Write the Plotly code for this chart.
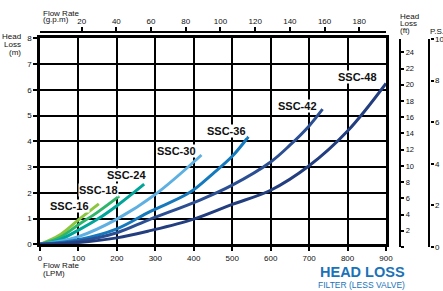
import plotly.graph_objects as go

FONT = "Liberation Sans, Arial, sans-serif"

# ---- data (flow in LPM, head loss in m) ----
series_names = ["SSC-16", "SSC-18", "SSC-24", "SSC-30", "SSC-36", "SSC-42", "SSC-48"]

lpm_16 = [0, 50, 100, 153]
hl_16 = [0, 0.35, 0.95, 1.57]

lpm_18 = [0, 50, 100, 150, 206]
hl_18 = [0, 0.25, 0.76, 1.25, 1.87]

lpm_24 = [0, 50, 100, 150, 200, 271]
hl_24 = [0, 0.17, 0.55, 0.98, 1.5, 2.34]

lpm_30 = [0, 100, 200, 300, 420]
hl_30 = [0, 0.3, 0.98, 1.94, 3.47]

lpm_36 = [0, 100, 200, 286, 388, 450, 500, 542]
hl_36 = [0, 0.18, 0.6, 1.27, 2.0, 2.75, 3.42, 4.18]

lpm_42 = [0, 100, 200, 286, 416, 500, 600, 650, 700, 735]
hl_42 = [0, 0.12, 0.45, 0.97, 1.72, 2.3, 3.2, 3.85, 4.6, 5.25]

lpm_48 = [0, 100, 200, 286, 400, 500, 600, 700, 800, 900]
hl_48 = [0, 0.07, 0.25, 0.53, 0.98, 1.55, 2.1, 3.05, 4.4, 6.25]

series_x = [lpm_16, lpm_18, lpm_24, lpm_30, lpm_36, lpm_42, lpm_48]
series_y = [hl_16, hl_18, hl_24, hl_30, hl_36, hl_42, hl_48]
colors = ["#8cc63f", "#2db56c", "#00a59a", "#5eb0e2", "#1479bd", "#2c4f93", "#233e7f"]

# label anchor points (LPM, m)
label_x = [78, 151, 226, 356, 486, 669, 825]
label_y = [1.49, 2.11, 2.69, 3.62, 4.40, 5.37, 6.49]

lpm_ticks = [0, 100, 200, 300, 400, 500, 600, 700, 800, 900]
m_ticks = [0, 1, 2, 3, 4, 5, 6, 7, 8]
gpm_ticks = [20, 40, 60, 80, 100, 120, 140, 160, 180]
ft_ticks = [0, 2, 4, 6, 8, 10, 12, 14, 16, 18, 20, 22, 24]
psi_ticks = [0, 2, 4, 6, 8, 10]

fig = go.Figure()

for name, xs, ys, c in zip(series_names, series_x, series_y, colors):
    fig.add_trace(go.Scatter(x=xs, y=ys, mode="lines", name=name,
                             line=dict(color=c, width=3, shape="spline", smoothing=1.0),
                             hoverinfo="skip", showlegend=False))

# empty traces so that the secondary (scale-only) axes get drawn
fig.add_trace(go.Scatter(x=[None], y=[None], xaxis="x2", yaxis="y2",
                         showlegend=False, hoverinfo="skip"))
fig.add_trace(go.Scatter(x=[None], y=[None], xaxis="x2", yaxis="y3",
                         showlegend=False, hoverinfo="skip"))

# the page's body margin is removed (post_script), so figure pixels = window pixels
OFF = 0
W, H = 443, 291
L, R, T, B = 40, 13, 30, 44
PW, PH = W - L - R, H - T - B
PB = H - B  # paper bottom in figure pixels

def fx(px):   # window pixel x -> paper x
    return (px - OFF - L) / PW

def fy(py):   # window pixel y -> paper y
    return (PB - (py - OFF)) / PH

XDOM = [0, fx(386)]
tickfont = dict(family=FONT, size=8, color="#111")

fig.update_layout(
    width=W, height=H,
    margin=dict(l=L, r=R, t=T, b=B),
    paper_bgcolor="white", plot_bgcolor="rgba(0,0,0,0)",
    xaxis=dict(domain=XDOM, range=[0, 900], tickvals=lpm_ticks,
               showgrid=True, gridcolor="black", gridwidth=2.2,
               showline=True, linecolor="black", linewidth=2.6, mirror=True,
               ticks="outside", ticklen=4, tickwidth=2, tickcolor="black",
               tickfont=tickfont, zeroline=False, fixedrange=True, automargin=False),
    yaxis=dict(domain=[fy(244.3), fy(38.4)], range=[0, 8], tickvals=m_ticks,
               showgrid=True, gridcolor="black", gridwidth=2.2,
               showline=True, linecolor="black", linewidth=2.6, mirror=True,
               ticks="outside", ticklen=4, tickwidth=2, tickcolor="black",
               tickfont=tickfont, zeroline=False, fixedrange=True, automargin=False),
    xaxis2=dict(domain=XDOM, range=[-4, 195.4], anchor="free", position=fy(32),
                side="top", tickvals=gpm_ticks, showgrid=False,
                showline=True, linecolor="black", linewidth=2.4,
                ticks="outside", ticklen=4, tickwidth=2, tickcolor="black",
                tickfont=tickfont, zeroline=False, fixedrange=True, automargin=False),
    yaxis2=dict(domain=[fy(247), fy(39)], range=[0, 25.64], anchor="free", position=fx(400),
                side="right", tickvals=ft_ticks,
                ticktext=["" if v == 0 else str(v) for v in ft_ticks],
                showgrid=False, showline=True, linecolor="black", linewidth=2.4,
                ticks="outside", ticklen=3, tickwidth=2, tickcolor="black",
                tickfont=dict(family=FONT, size=7.5, color="#111"),
                ticklabeloverflow="allow",
                zeroline=False, fixedrange=True, automargin=False),
    yaxis3=dict(domain=[fy(247), fy(39)], range=[0, 10], anchor="free", position=fx(429.3),
                side="right", tickvals=psi_ticks, showgrid=False,
                showline=True, linecolor="black", linewidth=2.4,
                ticks="outside", ticklen=3, tickwidth=2, tickcolor="black",
                tickfont=dict(family=FONT, size=8, color="#111"),
                ticklabeloverflow="allow",
                zeroline=False, fixedrange=True, automargin=False),
)

# curve labels
for name, lx, ly in zip(series_names, label_x, label_y):
    fig.add_annotation(x=lx, y=ly, xref="x", yref="y", text="<b>%s</b>" % name,
                       showarrow=False, bgcolor="white", borderpad=0,
                       font=dict(family=FONT, size=11, color="#111"))

def place(txt, px, py, size=8, xanchor="left", color="#111", bold=False):
    t = "<b>%s</b>" % txt if bold else txt
    fig.add_annotation(x=fx(px), y=fy(py), xref="paper", yref="paper",
                       text=t, showarrow=False, xanchor=xanchor, yanchor="middle",
                       borderpad=0,
                       font=dict(family=FONT, size=size, color=color))

# left title
place("Head", 22, 36, xanchor="right")
place("Loss", 22, 44, xanchor="right")
place("(m)", 22, 52, xanchor="right")
# top title
place("Flow Rate", 42, 13)
place("(g.p.m)", 42, 20)
# bottom title
place("Flow Rate", 42, 265)
place("(LPM)", 42, 273)
# right titles
place("Head", 399, 16)
place("Loss", 399, 24)
place("(ft)", 399, 31)
place("P.S.I.", 429, 32)

BLUE = "#1a72b9"
place("HEAD LOSS", 362, 272, size=14.5, xanchor="center", color=BLUE, bold=True)
place("FILTER (LESS VALVE)", 361, 285, size=8.5, xanchor="center", color=BLUE)

fig.write_html("out.html",
               config={"displayModeBar": False},
               post_script="document.body.style.margin='0px';document.body.style.overflow='hidden';")
